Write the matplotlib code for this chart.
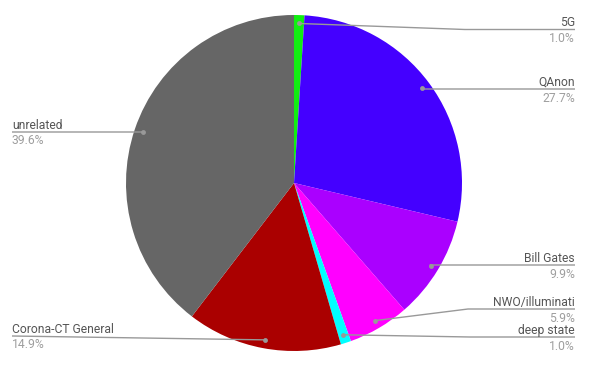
import matplotlib
matplotlib.use("Agg")
import matplotlib.pyplot as plt
import numpy as np

plt.rcParams['font.family'] = ['Roboto', 'DejaVu Sans']

labels = ["5G", "QAnon", "Bill Gates", "NWO/illuminati", "deep state", "Corona-CT General", "unrelated"]
values = [1.0, 27.7, 9.9, 5.9, 1.0, 14.9, 39.6]
colors = ["#11ee11", "#4400ff", "#aa00ff", "#ff00ff", "#00ffff", "#aa0000", "#666666"]

# layout (pixels, top-left origin)
W, H = 592, 368
CX, CY, R = 294, 183, 168
side = ["r", "r", "r", "r", "r", "l", "l"]
label_y = [29.5, 89, 265, 309, 337, 336, 132]
elbow_x = [465, 422, 430, 468, 470, 12, 143]

fig = plt.figure(figsize=(W / 100, H / 100), dpi=100)
ax = fig.add_axes([0, 0, 1, 1])
ax.pie(values, colors=colors, startangle=90, counterclock=False, radius=R,
       center=(CX, H - CY), frame=True, wedgeprops=dict(linewidth=0))
ax.set_xlim(0, W)
ax.set_ylim(0, H)
ax.set_aspect('equal')
ax.axis('off')

total = sum(values)
start = 90.0
line_c = "#999999"
for i, (lab, v) in enumerate(zip(labels, values)):
    span = v / total * 360
    mid = np.deg2rad(start - span / 2)
    start -= span
    dx = CX + 0.95 * R * np.cos(mid)
    dy = CY - 0.95 * R * np.sin(mid)
    ly = label_y[i]
    if side[i] == "r":
        xe = 575
        ha = "right"
    else:
        xe = 12
        ha = "left"
    ex = elbow_x[i]
    ax.plot([dx, ex, xe], [H - dy, H - ly, H - ly], color=line_c, lw=1, solid_capstyle='butt')
    ax.plot([dx], [H - dy], marker='o', ms=3.5, color=line_c, mec='none')
    ax.text(xe, H - ly + 3, lab, ha=ha, va='baseline', fontsize=8.7, color="#555555")
    ax.text(xe, H - ly - 2.5, f"{v:.1f}%", ha=ha, va='top', fontsize=8.7, color="#9e9e9e")

fig.savefig("out.png", dpi=100)
